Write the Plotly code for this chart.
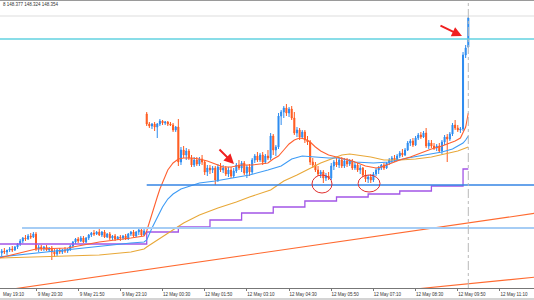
import plotly.graph_objects as go

# ---------------- data ----------------
bar_index = list(range(-13, 165))  # M5 bars, 0 = 9 May 20:30, 42 = 12 May 00:00

opens = [
    146.02, 146.04, 146.03, 146.05, 146.06, 146.05, 146.08, 146.11, 146.14, 146.17,
    146.16, 146.19, 146.18, 146.21, 146.06, 146.08, 146.06, 146.08, 146.05, 146.07,
    146.03, 146.01, 146.05, 146.03, 146.05, 146.04, 146.06, 146.09, 146.13, 146.16,
    146.14, 146.17, 146.13, 146.17, 146.20, 146.22, 146.21, 146.23, 146.20, 146.23,
    146.18, 146.21, 146.17, 146.19, 146.16, 146.18, 146.17, 146.19, 146.16, 146.21,
    146.23, 146.19, 146.23, 146.25, 146.20, 147.41, 147.31, 147.29, 147.31, 147.28,
    147.31, 147.34, 147.32, 147.33, 147.31, 147.30, 147.25, 147.28, 146.93, 147.05,
    147.00, 147.04, 146.97, 146.90, 146.95, 146.91, 146.96, 146.93, 146.83, 146.87,
    146.85, 146.87, 146.75, 146.88, 146.85, 146.87, 146.81, 146.85, 146.79, 146.84,
    146.90, 146.87, 146.92, 146.82, 146.88, 146.83, 146.95, 146.99, 146.95, 147.00,
    146.93, 146.99, 146.97, 147.19, 147.05, 147.08, 147.39, 147.43, 147.47, 147.42,
    147.46, 147.37, 147.22, 147.25, 147.18, 147.23, 147.15, 147.13, 146.93, 146.90,
    146.85, 146.81, 146.83, 146.77, 146.79, 146.77, 146.89, 146.93, 146.90, 146.95,
    146.89, 146.94, 146.91, 146.94, 146.87, 146.90, 146.85, 146.87, 146.80, 146.76,
    146.78, 146.75, 146.81, 146.85, 146.87, 146.90, 146.87, 146.92, 146.95, 146.97,
    146.95, 146.99, 147.02, 147.00, 147.05, 147.12, 147.14, 147.10, 147.17, 147.20,
    147.18, 147.22, 147.09, 147.12, 147.09, 147.07, 147.09, 147.04, 147.13, 147.18,
    147.16, 147.21, 147.30, 147.27, 147.25, 147.26, 148.00, 148.08,
]
highs = [
    146.06, 146.07, 146.05, 146.08, 146.09, 146.09, 146.12, 146.16, 146.18, 146.20,
    146.21, 146.22, 146.23, 146.23, 146.10, 146.10, 146.09, 146.10, 146.08, 146.09,
    146.06, 146.06, 146.07, 146.06, 146.08, 146.07, 146.10, 146.14, 146.17, 146.18,
    146.19, 146.19, 146.18, 146.21, 146.23, 146.25, 146.24, 146.26, 146.24, 146.25,
    146.22, 146.23, 146.20, 146.21, 146.19, 146.20, 146.20, 146.21, 146.22, 146.24,
    146.25, 146.24, 146.26, 146.27, 146.26, 147.43, 147.33, 147.32, 147.33, 147.32,
    147.36, 147.35, 147.34, 147.34, 147.33, 147.32, 147.29, 147.36, 147.08, 147.09,
    147.07, 147.06, 147.00, 146.98, 146.98, 146.98, 147.00, 146.95, 146.90, 146.90,
    146.89, 146.89, 146.91, 146.92, 146.90, 146.89, 146.88, 146.88, 146.87, 146.92,
    146.95, 146.94, 146.94, 146.90, 146.91, 146.97, 147.01, 147.03, 147.02, 147.03,
    147.01, 147.05, 147.22, 147.21, 147.10, 147.42, 147.45, 147.49, 147.51, 147.48,
    147.49, 147.43, 147.28, 147.27, 147.25, 147.25, 147.19, 147.15, 146.97, 146.93,
    146.89, 146.85, 146.85, 146.82, 146.83, 146.92, 146.95, 146.97, 146.97, 146.98,
    146.97, 146.97, 146.96, 146.96, 146.93, 146.92, 146.90, 146.88, 146.85, 146.80,
    146.81, 146.83, 146.87, 146.89, 146.91, 146.92, 146.93, 146.97, 146.99, 147.00,
    147.01, 147.04, 147.06, 147.07, 147.14, 147.16, 147.17, 147.19, 147.22, 147.23,
    147.24, 147.27, 147.15, 147.15, 147.12, 147.11, 147.12, 147.15, 147.20, 147.21,
    147.23, 147.32, 147.35, 147.30, 147.28, 148.03, 148.10, 148.38,
]
lows = [
    145.99, 146.01, 146.00, 146.03, 146.03, 146.04, 146.06, 146.09, 146.12, 146.14,
    146.15, 146.16, 146.17, 146.04, 146.03, 146.04, 146.04, 146.04, 146.03, 145.95,
    145.98, 145.99, 146.01, 146.01, 146.02, 146.02, 146.04, 146.07, 146.11, 146.12,
    146.13, 146.12, 146.12, 146.15, 146.18, 146.19, 146.20, 146.19, 146.18, 146.17,
    146.17, 146.15, 146.15, 146.14, 146.15, 146.14, 146.15, 146.15, 146.15, 146.19,
    146.18, 146.18, 146.20, 146.19, 146.19, 147.29, 147.27, 147.26, 147.24, 147.17,
    147.29, 147.30, 147.30, 147.29, 147.29, 147.23, 147.23, 146.89, 146.90, 146.97,
    146.95, 146.95, 146.88, 146.88, 146.89, 146.89, 146.90, 146.80, 146.79, 146.81,
    146.82, 146.70, 146.73, 146.83, 146.82, 146.79, 146.78, 146.77, 146.77, 146.82,
    146.85, 146.83, 146.80, 146.77, 146.79, 146.81, 146.92, 146.93, 146.93, 146.90,
    146.91, 146.95, 146.95, 147.00, 146.99, 147.06, 147.30, 147.37, 147.39, 147.38,
    147.35, 147.20, 147.18, 147.15, 147.16, 147.12, 147.10, 146.90, 146.87, 146.83,
    146.79, 146.77, 146.72, 146.74, 146.75, 146.75, 146.85, 146.88, 146.87, 146.87,
    146.87, 146.88, 146.89, 146.85, 146.85, 146.83, 146.81, 146.78, 146.73, 146.72,
    146.72, 146.73, 146.79, 146.81, 146.85, 146.85, 146.86, 146.90, 146.92, 146.93,
    146.94, 146.97, 146.98, 146.99, 147.04, 147.09, 147.08, 147.09, 147.15, 147.16,
    147.17, 147.07, 147.06, 147.07, 147.05, 147.04, 147.02, 147.01, 147.10, 146.93,
    147.14, 147.19, 147.25, 147.23, 147.22, 147.24, 147.97, 148.07,
]
closes = [
    146.04, 146.03, 146.05, 146.06, 146.05, 146.08, 146.11, 146.14, 146.17, 146.16,
    146.19, 146.18, 146.21, 146.06, 146.08, 146.06, 146.08, 146.05, 146.07, 146.03,
    146.01, 146.05, 146.03, 146.05, 146.04, 146.06, 146.09, 146.13, 146.16, 146.14,
    146.17, 146.13, 146.17, 146.20, 146.22, 146.21, 146.23, 146.20, 146.23, 146.18,
    146.21, 146.17, 146.19, 146.16, 146.18, 146.17, 146.19, 146.16, 146.21, 146.23,
    146.19, 146.23, 146.25, 146.20, 146.24, 147.31, 147.29, 147.31, 147.28, 147.31,
    147.34, 147.32, 147.33, 147.31, 147.30, 147.25, 147.28, 146.93, 147.05, 147.00,
    147.04, 146.97, 146.90, 146.95, 146.91, 146.96, 146.93, 146.83, 146.87, 146.85,
    146.87, 146.75, 146.88, 146.85, 146.87, 146.81, 146.85, 146.79, 146.84, 146.90,
    146.87, 146.92, 146.82, 146.88, 146.83, 146.95, 146.99, 146.95, 147.00, 146.93,
    146.99, 146.97, 147.19, 147.05, 147.08, 147.39, 147.43, 147.47, 147.42, 147.46,
    147.37, 147.22, 147.25, 147.18, 147.23, 147.15, 147.13, 146.93, 146.90, 146.85,
    146.81, 146.83, 146.77, 146.79, 146.77, 146.89, 146.93, 146.90, 146.95, 146.89,
    146.94, 146.91, 146.94, 146.87, 146.90, 146.85, 146.87, 146.80, 146.76, 146.78,
    146.75, 146.81, 146.85, 146.87, 146.90, 146.87, 146.92, 146.95, 146.97, 146.95,
    146.99, 147.02, 147.00, 147.05, 147.12, 147.14, 147.10, 147.17, 147.20, 147.18,
    147.22, 147.09, 147.12, 147.09, 147.07, 147.09, 147.04, 147.13, 147.18, 147.16,
    147.21, 147.30, 147.27, 147.25, 147.26, 148.00, 148.07, 148.37,
]

# moving averages read at selected bars
ma_fast_x = [-14, 0, 12, 24, 36, 41, 42, 43, 44, 45, 46, 47, 48, 49, 50, 52, 54, 56, 59, 62,
             65, 68, 71, 74, 78, 82, 85, 88, 90, 92, 94, 96, 98, 100, 102, 104, 106, 108,
             111, 115, 120, 125, 129, 131, 134, 138, 142, 146, 150, 154, 157, 159, 161,
             162, 163, 164]
ma_fast_y = [145.97, 146.06, 146.07, 146.13, 146.17, 146.19, 146.24, 146.33, 146.42, 146.50,
             146.58, 146.66, 146.73, 146.80, 146.85, 146.92, 146.96, 146.97, 146.97, 146.96,
             146.94, 146.91, 146.88, 146.88, 146.90, 146.90, 146.91, 146.92, 146.96, 146.99,
             147.05, 147.11, 147.15, 147.17, 147.16, 147.13, 147.08, 147.04, 147.00, 146.97,
             146.94, 146.89, 146.87, 146.88, 146.91, 146.95, 146.98, 147.02, 147.06, 147.09,
             147.12, 147.14, 147.17, 147.22, 147.28, 147.42]

ma_mid_x = [-14, 0, 12, 24, 36, 41, 42, 44, 46, 48, 50, 52, 55, 59, 62, 68, 75, 81, 88, 93,
            97, 101, 106, 111, 115, 121, 128, 134, 141, 147, 154, 158, 161, 162, 163, 164]
ma_mid_y = [145.98, 146.02, 146.05, 146.09, 146.12, 146.13, 146.15, 146.27, 146.38, 146.48,
            146.56, 146.61, 146.66, 146.69, 146.72, 146.74, 146.77, 146.80, 146.85, 146.89,
            146.96, 146.99, 146.98, 146.97, 146.97, 146.93, 146.92, 146.93, 146.97, 147.00,
            147.03, 147.06, 147.10, 147.12, 147.15, 147.19]

ma_slow_x = [-14, 0, 12, 24, 36, 41, 42, 46, 51, 56, 62, 69, 76, 81, 89, 94, 99, 104, 108,
             112, 116, 119, 122, 127, 132, 138, 144, 150, 155, 160, 164]
ma_slow_y = [145.97, 145.98, 145.99, 146.00, 146.03, 146.06, 146.08, 146.15, 146.23, 146.32,
             146.40, 146.47, 146.53, 146.58, 146.65, 146.74, 146.80, 146.87, 146.92, 146.96,
             147.00, 147.01, 147.00, 146.98, 146.95, 146.95, 146.96, 146.98, 147.01, 147.04,
             147.08]

# hourly step indicator
step_x = [-14, 42, 54, 66, 78, 90, 102, 114, 126, 138, 150, 162, 164]
step_y = [146.11, 146.23, 146.28, 146.35, 146.42, 146.48, 146.54, 146.58, 146.61, 146.64,
          146.69, 146.86, 146.86]

# drawn trend lines (bar, price)
trend_a_x = [-14, 190]
trend_a_y = [145.64, 146.42]
trend_b_x = [144, 190]
trend_b_y = [145.66, 145.78]

# horizontal levels
level_cyan = 148.16
level_header = 148.39
level_blue = 146.70
level_blue_start = 42
level_light = 146.27
level_light_start = -5.3
current_bar = 164

tick_idx = [0, 16, 32, 48, 64, 80, 96, 112, 128, 144, 160, 176]
tick_text = ["9 May 20:30", "9 May 21:50", "9 May 23:10",
             "12 May 00:30", "12 May 01:50", "12 May 03:10", "12 May 04:30",
             "12 May 05:50", "12 May 07:10", "12 May 08:30", "12 May 09:50",
             "12 May 11:10"]
first_label = "May 19:10"   # partially scrolled-off "9 May 19:10"
header_text = "8 148.377 148.324 148.354"

assert len(opens) == len(highs) == len(lows) == len(closes) == len(bar_index)

# ---------------- style ----------------
BLUE = "#2d8cf0"
RED = "#ff5a1e"
FONT = "Liberation Sans"

fig = go.Figure()
fig.add_trace(go.Scatter(x=step_x, y=step_y, mode="lines", line=dict(color="#a255e6", width=1.3, shape="hv"),
                         showlegend=False, hoverinfo="skip"))
fig.add_trace(go.Candlestick(
    x=bar_index, open=opens, high=highs, low=lows, close=closes,
    increasing=dict(line=dict(color=BLUE, width=1), fillcolor=BLUE),
    decreasing=dict(line=dict(color=RED, width=1), fillcolor=RED),
    whiskerwidth=0, showlegend=False, hoverinfo="skip"))

fig.add_trace(go.Scatter(x=ma_slow_x, y=ma_slow_y, mode="lines", line=dict(color="#e8a838", width=1.1),
                         showlegend=False, hoverinfo="skip"))
fig.add_trace(go.Scatter(x=ma_mid_x, y=ma_mid_y, mode="lines", line=dict(color="#3d9bf5", width=1.1),
                         showlegend=False, hoverinfo="skip"))
fig.add_trace(go.Scatter(x=ma_fast_x, y=ma_fast_y, mode="lines", line=dict(color="#ff6030", width=1.1),
                         showlegend=False, hoverinfo="skip"))
for tx, ty in ((trend_a_x, trend_a_y), (trend_b_x, trend_b_y)):
    fig.add_trace(go.Scatter(x=tx, y=ty, mode="lines", line=dict(color="#ff6a30", width=1.1),
                             showlegend=False, hoverinfo="skip"))

# horizontal / vertical lines
fig.add_shape(type="line", xref="paper", x0=0, x1=1, yref="y", y0=level_header, y1=level_header,
              line=dict(color="#dddddd", width=1))
fig.add_shape(type="line", xref="paper", x0=0, x1=1, yref="y", y0=level_cyan, y1=level_cyan,
              line=dict(color="#62d2e0", width=1.5))
fig.add_shape(type="line", xref="x", x0=level_blue_start, x1=195, yref="y", y0=level_blue, y1=level_blue,
              line=dict(color="#3584e4", width=1.5))
fig.add_shape(type="line", xref="x", x0=level_light_start, x1=195, yref="y", y0=level_light, y1=level_light,
              line=dict(color="#a6cdf5", width=2))
fig.add_shape(type="line", xref="x", x0=current_bar, x1=current_bar, yref="paper", y0=0, y1=1,
              line=dict(color="#b8b8b8", width=1, dash="dashdot"))
# window frame bits
fig.add_shape(type="line", xref="paper", x0=0, x1=1, yref="paper", y0=1, y1=1,
              line=dict(color="#9a9a9a", width=2))
fig.add_shape(type="rect", xref="paper", x0=0, x1=1, yref="paper", y0=-0.0417, y1=-0.0347,
              line=dict(width=0), fillcolor="#d4d4d4")

# circles
for cx0, cx1, cy0, cy1 in ((104.7, 112.3, 146.62, 146.80), (122.2, 130.5, 146.63, 146.80)):
    fig.add_shape(type="circle", xref="x", yref="y", x0=cx0, x1=cx1, y0=cy0, y1=cy1,
                  line=dict(color="#e03030", width=1))

# arrows
for hx, hy, axp, ayp in ((75.1, 146.91, -16, -16), (161.6, 148.19, -23, -11)):
    fig.add_annotation(x=hx, y=hy, ax=axp, ay=ayp, text="", showarrow=True,
                       arrowhead=2, arrowsize=1, arrowwidth=2, arrowcolor="#f02020")

fig.add_annotation(x=0.5 / 534, y=0.983, xref="paper", yref="paper", text=header_text,
                   showarrow=False, xanchor="left", yanchor="middle",
                   font=dict(family=FONT, size=4.5, color="#333333"))
fig.add_annotation(x=0.5 / 534, y=-0.021, xref="paper", yref="paper", text=first_label,
                   showarrow=False, xanchor="left", yanchor="middle",
                   font=dict(family=FONT, size=4.5, color="#333333"))

fig.update_layout(
    width=534, height=300, margin=dict(l=0, r=0, t=0, b=12),
    paper_bgcolor="white", plot_bgcolor="white", boxgap=0.45,
    xaxis=dict(range=[-13.657, 188.92], showgrid=False, zeroline=False,
               tickmode="array", tickvals=tick_idx, ticktext=tick_text,
               ticks="outside", ticklen=2, tickcolor="#777777",
               showline=True, linecolor="#777777", linewidth=1,
               tickfont=dict(family=FONT, size=4.5, color="#333333"),
               ticklabelshift=14, automargin=False,
               rangeslider=dict(visible=False)),
    yaxis=dict(range=[145.67, 148.55], visible=False, showgrid=False, zeroline=False,
               automargin=False),
    showlegend=False,
)

fig.write_html("out.html")
